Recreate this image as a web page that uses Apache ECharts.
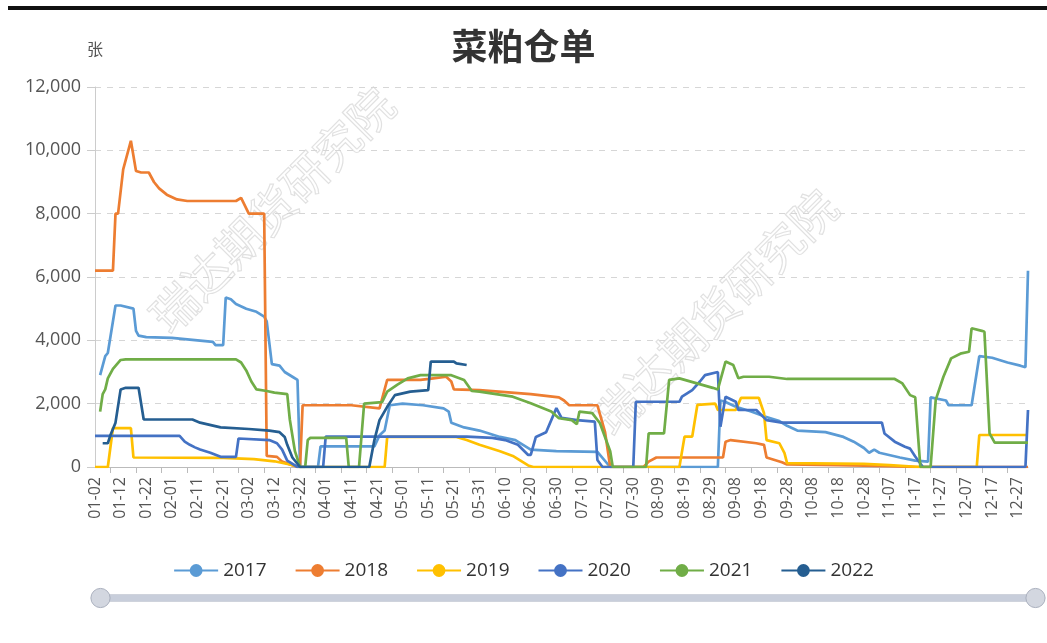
<!DOCTYPE html>
<html>
<head>
<meta charset="utf-8">
<script src="https://cdn.jsdelivr.net/npm/echarts@6/dist/echarts.min.js"></script>
<style>
html,body{margin:0;padding:0;background:#fff;}
#chart{width:1047px;height:643px;}
</style>
</head>
<body>
<div id="chart"></div>
<script>
// ---- categories: daily MM-DD from 01-02 to 12-31 (leap-year calendar) ----
const monthDays = [31,29,31,30,31,30,31,31,30,31,30,31];
const categories = [];
for (let m = 0; m < 12; m++) {
  for (let d = 1; d <= monthDays[m]; d++) {
    if (m === 0 && d === 1) continue;
    categories.push(String(m + 1).padStart(2, '0') + '-' + String(d).padStart(2, '0'));
  }
}

const seriesNames = ['2017', '2018', '2019', '2020', '2021', '2022'];
const yTicks = [0, 2000, 4000, 6000, 8000, 10000, 12000];

// ---- values: [category index, 张] ----
const d2017 = [[2,2900],[4,3500],[5,3600],[8,5100],[10,5100],[15,5000],[16,4300],[17,4150],[20,4100],[30,4080],[40,4000],[46,3950],[47,3850],[50,3850],[51,5350],[53,5300],[55,5150],[59,5000],[63,4900],[66,4750],[67,4600],[69,3250],[72,3200],[74,3000],[77,2850],[79,2750],[80,0],[87,0],[88,650],[109,650],[111,1000],[113,1150],[115,1950],[120,2000],[128,1950],[136,1850],[138,1750],[139,1400],[144,1250],[150,1150],[158,950],[164,850],[167,700],[170,550],[180,500],[196,480],[201,0],[243,0],[244,2100],[246,2050],[250,1900],[256,1750],[261,1600],[267,1450],[270,1300],[274,1150],[285,1100],[292,950],[296,800],[300,600],[302,450],[304,550],[306,450],[314,300],[320,200],[325,170],[326,2200],[332,2100],[333,1950],[342,1950],[345,3500],[350,3450],[356,3300],[361,3200],[363,3150],[364,6200]];
const d2018 = [[0,6200],[7,6200],[8,8000],[9,8000],[11,9400],[14,10300],[16,9350],[18,9300],[21,9300],[23,9000],[25,8800],[28,8600],[32,8450],[36,8400],[55,8400],[57,8500],[60,8000],[66,8000],[67,350],[71,320],[73,170],[79,0],[80,0],[81,1950],[100,1950],[111,1850],[114,2750],[127,2750],[132,2800],[137,2850],[139,2700],[140,2450],[150,2430],[170,2300],[181,2200],[183,2100],[185,1950],[196,1950],[199,1100],[201,0],[214,0],[216,170],[219,300],[245,300],[246,800],[248,850],[258,750],[261,700],[262,300],[268,150],[270,80],[290,60],[310,30],[320,0],[364,0]];
const d2019 = [[0,0],[5,0],[7,1230],[14,1230],[15,300],[50,290],[62,250],[70,180],[76,80],[80,0],[113,0],[114,950],[141,950],[145,850],[150,700],[158,500],[163,350],[169,50],[171,0],[228,0],[230,960],[233,960],[235,1960],[242,2000],[243,1800],[250,1800],[252,2180],[259,2180],[261,1700],[262,850],[267,750],[269,440],[270,120],[300,100],[310,60],[322,0],[344,0],[345,1010],[364,1010]];
const d2020 = [[0,980],[33,980],[35,800],[37,700],[39,620],[41,550],[45,450],[49,320],[55,320],[56,900],[68,850],[71,750],[73,550],[75,200],[79,0],[89,0],[90,960],[145,960],[155,920],[160,850],[165,700],[169,380],[170,380],[172,950],[176,1100],[180,1860],[182,1550],[188,1480],[195,1430],[196,220],[198,0],[210,0],[211,2060],[228,2060],[229,2220],[233,2430],[236,2700],[238,2900],[243,3000],[244,1270],[246,2220],[250,2060],[251,1800],[258,1800],[262,1480],[268,1400],[307,1400],[308,1060],[312,800],[316,640],[318,580],[320,330],[323,0],[363,0],[364,1800]];
const d2021 = [[2,1750],[3,2300],[4,2450],[5,2800],[7,3100],[10,3380],[12,3400],[55,3400],[57,3300],[59,3050],[61,2700],[63,2450],[67,2400],[70,2350],[75,2300],[76,1500],[78,500],[80,0],[82,0],[83,850],[84,920],[98,920],[99,0],[103,0],[105,2000],[112,2050],[114,2380],[118,2600],[122,2800],[127,2900],[139,2900],[144,2750],[147,2400],[150,2380],[163,2220],[170,2010],[178,1750],[181,1540],[186,1480],[188,1350],[189,1750],[194,1700],[197,1380],[201,500],[202,0],[215,0],[216,1060],[222,1060],[224,2750],[228,2800],[241,2500],[243,2450],[246,3330],[249,3220],[251,2800],[253,2850],[263,2850],[270,2780],[312,2780],[315,2640],[318,2270],[320,2200],[322,0],[326,0],[328,2120],[331,2850],[334,3430],[338,3590],[341,3640],[342,4380],[346,4300],[347,4270],[349,1060],[351,770],[364,770]];
const d2022 = [[3,750],[5,750],[6,1000],[8,1400],[10,2450],[12,2500],[17,2500],[19,1500],[38,1500],[41,1400],[49,1250],[60,1200],[68,1150],[72,1100],[74,950],[75,700],[77,300],[80,0],[107,0],[109,850],[111,1480],[114,1900],[117,2270],[123,2380],[130,2430],[131,3330],[140,3330],[141,3270],[145,3220]];

const seriesData = [d2017, d2018, d2019, d2020, d2021, d2022];
const colors = ['#5b9bd5', '#ed7d31', '#ffc000', '#4472c4', '#70ad47', '#255e91'];

const FONT = "'Open Sans','Noto Sans','Noto Sans CJK SC',sans-serif";
const CJK = "'Noto Sans CJK SC',sans-serif";
const chart = echarts.init(document.getElementById('chart'), null, {renderer: 'canvas'});

const option = {
  animation: false,
  color: colors,
  textStyle: {fontFamily: FONT},
  title: {
    text: '菜粕仓单',
    left: 'center',
    top: 23,
    textStyle: {fontSize: 36, fontWeight: 'bold', color: '#333', fontFamily: CJK}
  },
  graphic: [
    {type: 'rect', left: 8, top: 6, shape: {width: 1039, height: 4}, style: {fill: '#111'}, silent: true},
    {type: 'text', x: 272, y: 210, rotation: Math.PI / 4, silent: true, z: 0,
     style: {text: '瑞达期货研究院', fontSize: 46, fontFamily: CJK, fill: 'rgba(255,255,255,0)', stroke: 'rgba(170,170,170,0.35)', lineWidth: 1.2, align: 'center', verticalAlign: 'middle'}},
    {type: 'text', x: 715, y: 312, rotation: Math.PI / 4, silent: true, z: 0,
     style: {text: '瑞达期货研究院', fontSize: 46, fontFamily: CJK, fill: 'rgba(255,255,255,0)', stroke: 'rgba(170,170,170,0.35)', lineWidth: 1.2, align: 'center', verticalAlign: 'middle'}}
  ],
  legend: {
    data: seriesNames,
    bottom: 58,
    left: 'center',
    itemWidth: 44,
    itemHeight: 16,
    itemGap: 28,
    textStyle: {fontSize: 19, color: '#333', fontFamily: FONT}
  },
  grid: {left: 95, right: 19, top: 87, bottom: 176, containLabel: false},
  xAxis: {
    type: 'category',
    data: categories,
    boundaryGap: false,
    axisLine: {lineStyle: {color: '#bbb'}},
    axisTick: {show: true, interval: function (i) { return i % 10 === 6; }, length: 6, lineStyle: {color: '#bbb'}},
    axisLabel: {interval: 9, rotate: 90, fontSize: 16, color: '#555', margin: 10, fontFamily: FONT}
  },
  yAxis: {
    type: 'value',
    name: '张',
    nameLocation: 'end',
    nameGap: 30,
    nameTextStyle: {fontSize: 16, color: '#555', align: 'center', fontFamily: CJK},
    min: yTicks[0],
    max: yTicks[yTicks.length - 1],
    interval: 2000,
    axisLine: {show: true, lineStyle: {color: '#ccc'}},
    axisTick: {show: true, length: 8, lineStyle: {color: '#ccc'}},
    axisLabel: {fontSize: 18, color: '#555', margin: 14, fontFamily: FONT},
    splitLine: {lineStyle: {type: [6, 6], color: '#d6d6d6'}}
  },
  dataZoom: [{
    type: 'slider',
    xAxisIndex: 0,
    start: 0,
    end: 100,
    left: 98,
    right: 12,
    bottom: 41,
    height: 8,
    showDetail: false,
    showDataShadow: false,
    brushSelect: false,
    moveHandleSize: 0,
    backgroundColor: '#e1e4eb',
    fillerColor: '#c8cedb',
    borderColor: '#cfd3dc',
    borderRadius: 4,
    handleIcon: 'circle',
    handleSize: '240%',
    handleStyle: {color: '#d3d7e0', borderColor: '#a9afbd'}
  }],
  series: seriesNames.map(function (name, i) {
    return {
      name: name,
      type: 'line',
      data: seriesData[i],
      symbol: 'circle',
      symbolSize: 8,
      showSymbol: false,
      lineStyle: {width: 2.7},
      z: 3
    };
  })
};
chart.setOption(option);
</script>
</body>
</html>
